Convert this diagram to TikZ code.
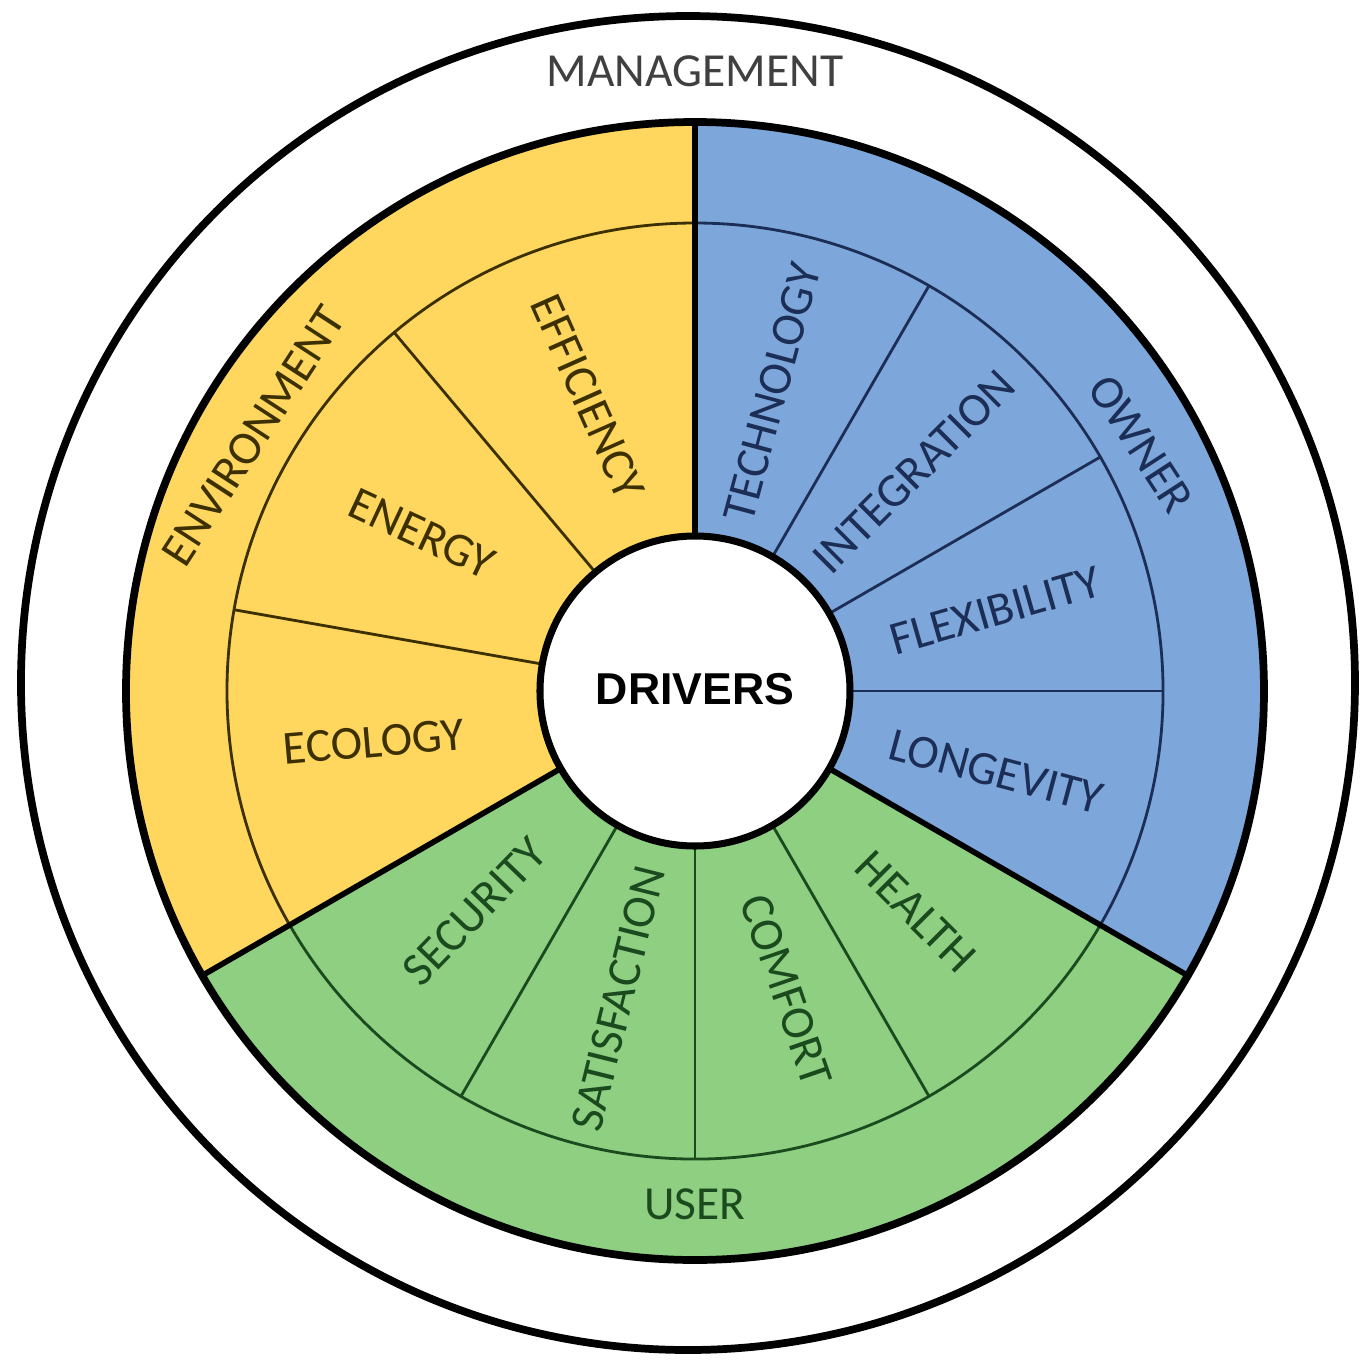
\documentclass[tikz,border=0pt]{standalone}
\usepackage{fontspec}
\setmainfont{Carlito}
\newfontfamily\driversfont{Liberation Sans}
\usetikzlibrary{positioning}
\usepackage{xcolor}
\definecolor{envyellow}{HTML}{FFD75E}
\definecolor{ownerblue}{HTML}{7DA7DB}
\definecolor{usergreen}{HTML}{8ECF82}
\definecolor{envdark}{HTML}{3D3000}
\definecolor{ownerdark}{HTML}{1C2E55}
\definecolor{userdark}{HTML}{1B4A1E}
\definecolor{mgmtgray}{HTML}{404040}
\tikzset{
	wheeltext/.style={font=\fontsize{13.5}{16}\selectfont, inner sep=0pt},
	subline/.style={line width=.8pt},
}

\begin{document}
\begin{tikzpicture}
	\useasboundingbox (-6.95,-6.79) rectangle (6.66,6.91);
	% outer ring
	\draw[line width=2.2pt] (-0.07,0.08) circle[radius=6.67];
	\node[wheeltext, text=mgmtgray] (management) at (0,6.20) {MANAGEMENT};
	% three sectors
	\fill[envyellow] (0,0) -- (90:5.69) arc[start angle=90, end angle=210, radius=5.69] -- cycle;
	\fill[usergreen] (0,0) -- (210:5.69) arc[start angle=210, end angle=330, radius=5.69] -- cycle;
	\fill[ownerblue] (0,0) -- (330:5.69) arc[start angle=-30, end angle=90, radius=5.69] -- cycle;
	% inner ring and sub dividers
	\draw[envdark, subline] (90:4.68) arc[start angle=90, end angle=210, radius=4.68];
	\draw[userdark, subline] (210:4.68) arc[start angle=210, end angle=330, radius=4.68];
	\draw[ownerdark, subline] (330:4.68) arc[start angle=-30, end angle=90, radius=4.68];
	\foreach \a in {130,170}
		\draw[envdark, subline] (\a:1.55) -- (\a:4.68);
	\foreach \a in {240,270,300}
		\draw[userdark, subline] (\a:1.55) -- (\a:4.68);
	\foreach \a in {0,30,60}
		\draw[ownerdark, subline] (\a:1.55) -- (\a:4.68);
	% sector borders
	\draw[line width=2.2pt] (0,0) circle[radius=5.69];
	\foreach \a in {90,210,330}
		\draw[line width=1.6pt] (\a:1.55) -- (\a:5.69);
	\node[circle, draw, fill=white, line width=2pt, minimum size=3.1cm, inner sep=0pt,
		font=\driversfont\bfseries\fontsize{12.7}{15}\selectfont] (drivers) at (0,0) {\raisebox{.04cm}{DRIVERS}};
	% environment
	\node[wheeltext, text=envdark, rotate=57] (environment) at (150:5.10) {ENVIRONMENT};
	\node[wheeltext, text=envdark, rotate=-66] (efficiency) at (110:3.13) {EFFICIENCY};
	\node[wheeltext, text=envdark, rotate=-25] (energy) at (150:3.15) {ENERGY};
	\node[wheeltext, text=envdark, rotate=5] (ecology) at (189:3.25) {ECOLOGY};
	% user
	\node[wheeltext, text=userdark] (user) at (0,-5.13) {USER};
	\node[wheeltext, text=userdark, rotate=46] (security) at (225:3.12) {SECURITY};
	\node[wheeltext, text=userdark, rotate=76] (satisfaction) at (256:3.17) {SATISFACTION};
	\node[wheeltext, text=userdark, rotate=-71] (comfort) at (287:3.13) {COMFORT};
	\node[wheeltext, text=userdark, rotate=-45] (health) at (315:3.12) {HEALTH};
	% owner
	\node[wheeltext, text=ownerdark, rotate=-57] (owner) at (29:5.10) {OWNER};
	\node[wheeltext, text=ownerdark, rotate=75] (technology) at (75.5:3.08) {TECHNOLOGY};
	\node[wheeltext, text=ownerdark, rotate=45] (integration) at (45:3.10) {INTEGRATION};
	\node[wheeltext, text=ownerdark, rotate=16] (flexibility) at (15:3.11) {FLEXIBILITY};
	\node[wheeltext, text=ownerdark, rotate=-15] (longevity) at (-15:3.12) {LONGEVITY};
\end{tikzpicture}
\end{document}
